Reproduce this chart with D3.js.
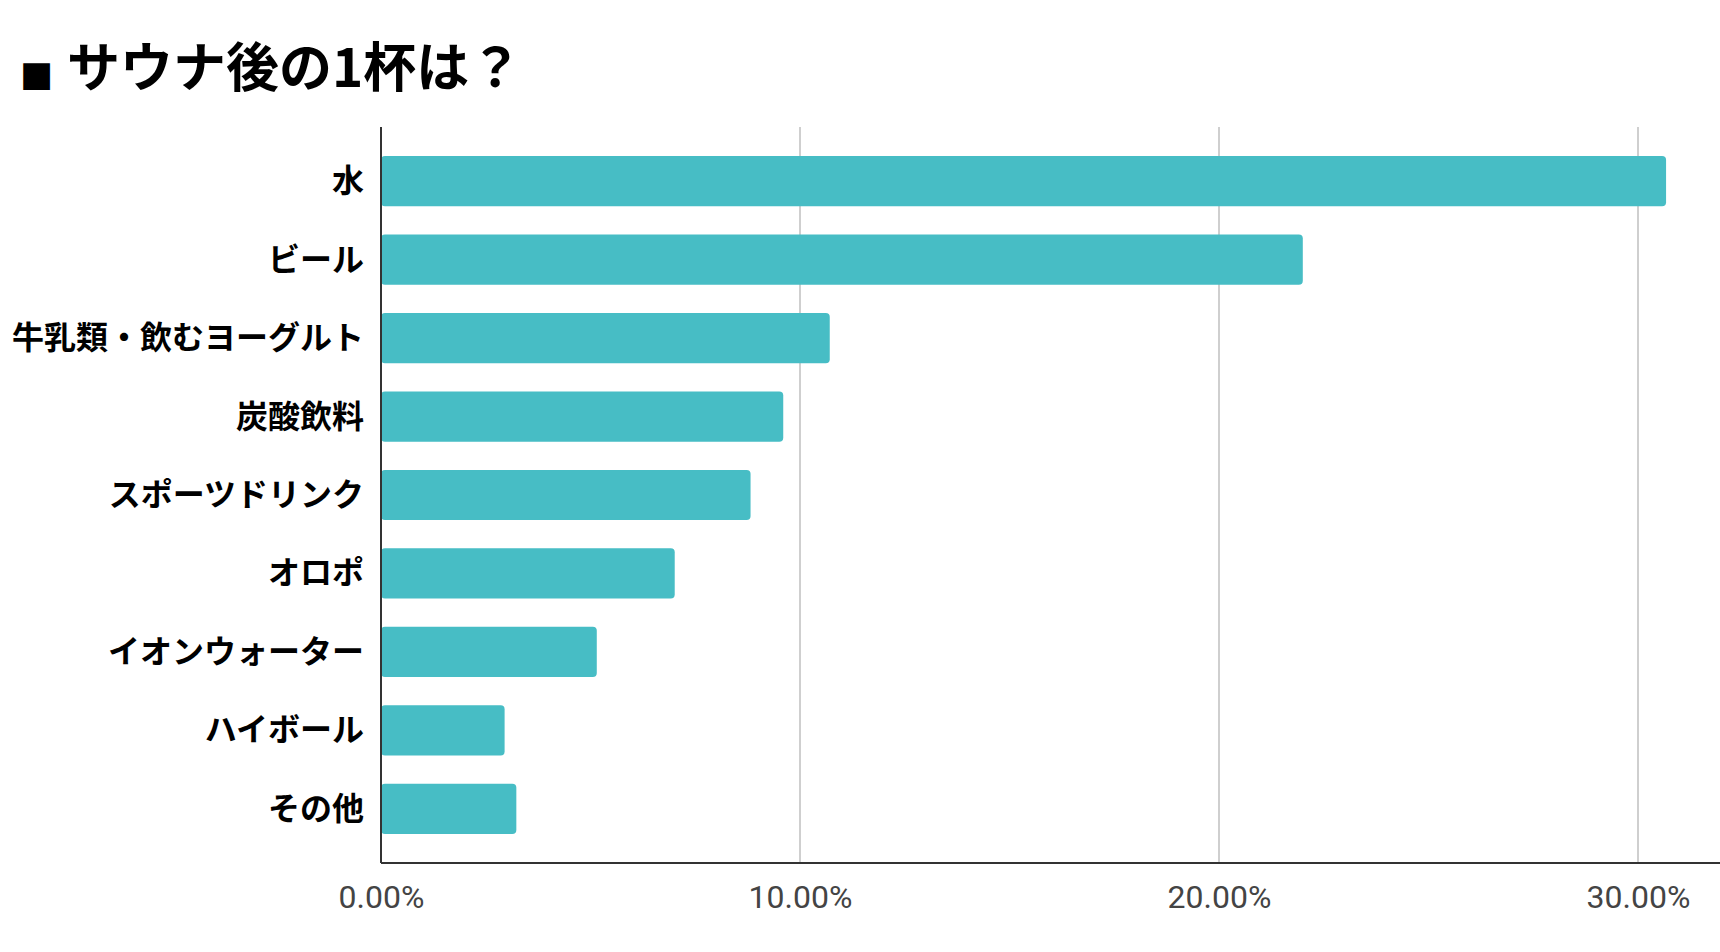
<!DOCTYPE html>
<html><head><meta charset="utf-8">
<script src="https://cdn.jsdelivr.net/npm/d3@7"></script>
<style>
html,body{margin:0;padding:0;background:#fff;}
svg{display:block;}
</style></head>
<body>
<svg id="chart" width="1720" height="952"></svg>
<script>
const title = "サウナ後の1杯は？";
const categories = ["水","ビール","牛乳類・飲むヨーグルト","炭酸飲料","スポーツドリンク","オロポ","イオンウォーター","ハイボール","その他"];
const values = [30.67, 22.0, 10.71, 9.60, 8.82, 7.01, 5.15, 2.95, 3.23];
const tickValues = [0, 10, 20, 30];

(function(){
const svg = d3.select("#chart");
const plotTop = 127, plotBottom = 863;

const x = d3.scaleLinear().domain([0, 30]).range([381, 1638]);
const y = d3.scaleBand().domain(categories).range([plotTop, plotBottom]).paddingInner(0.36).paddingOuter(0.37);

// title
svg.append("text").attr("x", 20).attr("y", 86)
  .attr("font-family", "'DejaVu Sans', sans-serif").attr("font-size", 35).attr("fill", "#000")
  .text("■");
svg.append("text").attr("x", 67).attr("y", 87)
  .attr("font-family", "'Noto Sans CJK JP', sans-serif").attr("font-weight", 700)
  .attr("font-size", 53).attr("fill", "#000").text(title);

// gridlines
svg.append("g").selectAll("line").data(tickValues.filter(d => d > 0)).join("line")
  .attr("x1", d => x(d)).attr("x2", d => x(d))
  .attr("y1", plotTop).attr("y2", plotBottom)
  .attr("stroke", "#cfcfcf").attr("stroke-width", 2);

// bars
svg.append("g").selectAll("rect").data(categories).join("rect")
  .attr("x", x(0)).attr("y", d => y(d))
  .attr("width", (d, i) => x(values[i]) - x(0))
  .attr("height", y.bandwidth())
  .attr("rx", 4).attr("ry", 4)
  .attr("fill", "#47bdc5");

// category labels
svg.append("g").selectAll("text").data(categories).join("text")
  .attr("x", 364).attr("y", d => y(d) + y.bandwidth()/2 - 3)
  .attr("text-anchor", "end").attr("dominant-baseline", "central")
  .attr("font-family", "'Noto Sans CJK JP', sans-serif").attr("font-weight", 700)
  .attr("font-size", 32).attr("fill", "#000").text(d => d);

// x axis
const xAxis = d3.axisBottom(x).tickValues(tickValues).tickSize(0).tickPadding(22)
  .tickFormat(d => d3.format(".2f")(d) + "%");
const gx = svg.append("g").attr("transform", `translate(0,${plotBottom})`).call(xAxis);
gx.select(".domain").remove();
gx.selectAll("text").attr("font-family", "Roboto, sans-serif").attr("font-size", 32).attr("fill", "#444");

// axis lines
svg.append("line").attr("x1", x(0)).attr("x2", 1720).attr("y1", plotBottom).attr("y2", plotBottom)
  .attr("stroke", "#333").attr("stroke-width", 2);
svg.append("line").attr("x1", x(0)).attr("x2", x(0)).attr("y1", plotTop).attr("y2", plotBottom)
  .attr("stroke", "#333").attr("stroke-width", 2);
})();
</script>
</body></html>
